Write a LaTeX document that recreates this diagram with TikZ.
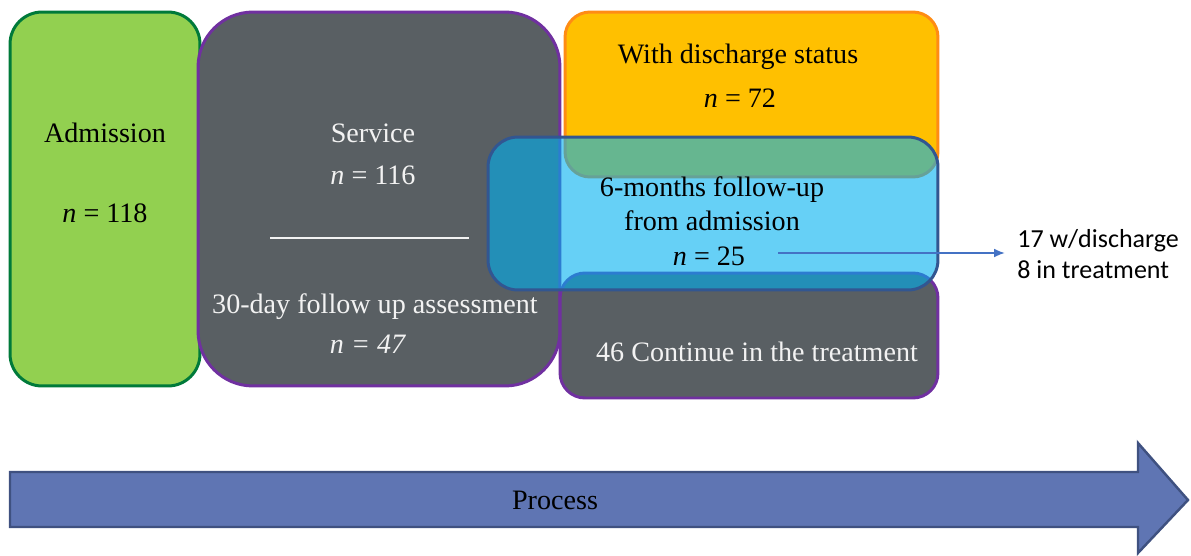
\documentclass[tikz,border=0pt]{standalone}
\usepackage{fontspec}
\setmainfont{Liberation Serif}
\newfontfamily\calibri{Carlito}
\usetikzlibrary{arrows.meta}

\definecolor{admfill}{RGB}{146,208,80}
\definecolor{admline}{RGB}{0,122,58}
\definecolor{slate}{RGB}{89,95,99}
\definecolor{violet}{RGB}{112,48,160}
\definecolor{amber}{RGB}{255,192,0}
\definecolor{amberline}{RGB}{255,140,20}
\definecolor{sky}{RGB}{0,176,240}
\definecolor{skyline}{RGB}{50,86,145}
\definecolor{pointer}{RGB}{68,114,196}
\definecolor{procfill}{RGB}{95,117,179}
\definecolor{procline}{RGB}{63,81,128}
\definecolor{offwhite}{RGB}{242,242,242}

\begin{document}
\begin{tikzpicture}[
  x=0.02cm, y=-0.02cm,
  >=Latex,
  stage/.style={rectangle, draw, line width=1.7pt, inner sep=0pt},
  boxtext/.style={font=\fontsize{16}{19.5}\selectfont, align=center, inner sep=0pt},
  sidetext/.style={font=\calibri\fontsize{14.8}{17.8}\selectfont, align=left, inner sep=0pt},
  leadarrow/.style={-{Latex[length=6pt,width=5pt]}, line width=0.8pt, draw=pointer, shorten >=7pt},
  flowarrow/.style={fill=procfill, draw=procline, line width=1.4pt}
]
\useasboundingbox (0,0) rectangle (1191,555);
\def\yTop{199}
% stage boxes
\node[stage, fill=admfill, draw=admline, rounded corners=0.64cm, minimum width=3.8cm, minimum height=7.48cm] (admission) at (105,\yTop) {};
\node[stage, fill=slate, draw=violet, rounded corners=1.1cm, minimum width=7.24cm, minimum height=7.48cm] (service) at (379,\yTop) {};
\node[stage, fill=amber, draw=amberline, rounded corners=0.5cm, minimum width=7.46cm, minimum height=3.3cm] (discharge) at (751.5,94.5) {};
\node[stage, fill=slate, draw=violet, rounded corners=0.5cm, minimum width=7.56cm, minimum height=2.5cm] (continue) at (749,335.5) {};
\node[stage, fill=sky, fill opacity=0.6, draw=skyline, rounded corners=0.6cm, minimum width=9cm, minimum height=3.06cm] (sixmonth) at (713,213.5) {};
\draw[offwhite, line width=1.2pt] (270,238) -- (469,238);
% texts
\node[boxtext] (admTitle) at (105,133) {Admission};
\node[boxtext] (admN) at (105,213) {\textit{n} = 118};
\node[boxtext, text=offwhite] (svcTitle) at (373,133) {Service};
\node[boxtext, text=offwhite] (svcN) at (373,175) {\textit{n} = 116};
\node[boxtext, text=offwhite] (fuTitle) at (375,307) {30-day follow up assessment};
\node[boxtext, text=offwhite] (fuN) at (368,344) {\textit{n = 47}};
\node[boxtext] (dischTitle) at (738,57) {With discharge status};
\node[boxtext] (dischN) at (740,98) {\textit{n} = 72};
\node[boxtext] (sixTitle) at (712,204) {6-months follow-up\\from admission};
\node[boxtext] (sixN) at (709,256) {\textit{n} = 25};
\node[boxtext, text=offwhite] (contTitle) at (757,352) {46 Continue in the treatment};
\node[sidetext, anchor=west] (outcome) at (1017,254) {17 w/discharge\\8 in treatment};
\coordinate (lead) at (778,253);
\draw[leadarrow] (lead) -- (lead -| outcome.west);
% timeline
\draw[flowarrow] (10,472) -- (1138,472) -- (1138,443) -- (1188,500) -- (1138,553) -- (1138,527) -- (10,527) -- cycle;
\node[boxtext] (process) at (555,500) {Process};
\end{tikzpicture}
\end{document}
